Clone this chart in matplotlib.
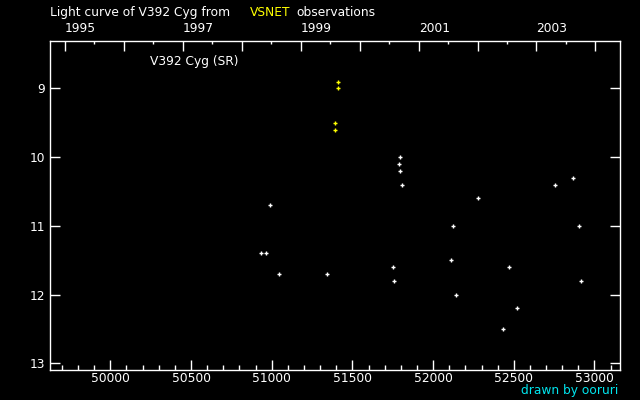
from datetime import date

import matplotlib
matplotlib.use("Agg")
import matplotlib.pyplot as plt
from matplotlib.ticker import FixedLocator, FixedFormatter

# observations (JD - 2400000, visual magnitude)
white_jd = [50935.6, 50966.5, 50991.3, 51047.0, 51344.5, 51753.4, 51759.6,
            51790.6, 51796.8, 51796.8, 51809.2, 52112.8, 52125.0, 52143.7,
            52280.0, 52435.0, 52472.1, 52521.7, 52757.1, 52868.6, 52905.8,
            52918.2]
white_mag = [11.4, 11.4, 10.7, 11.7, 11.7, 11.6, 11.8,
             10.1, 10.0, 10.2, 10.4, 11.5, 11.0, 12.0,
             10.6, 12.5, 11.6, 12.2, 10.4, 10.3, 11.0,
             11.8]
yellow_jd = [51394.0, 51394.0, 51412.6, 51412.6]
yellow_mag = [9.5, 9.6, 8.9, 9.0]

jd_ticks = [50000, 50500, 51000, 51500, 52000, 52500, 53000]
mag_ticks = [9, 10, 11, 12, 13]
years = list(range(1995, 2005))


def year_jd(y):
    # JD-2400000 of Jan 1 0h UT
    return (date(y, 1, 1) - date(1995, 1, 1)).days + 49718.5


fg = "white"
fs = 8.8
plt.rcParams["font.family"] = ["DejaVu Sans"]
plt.rcParams["font.size"] = fs

fig = plt.figure(figsize=(6.4, 4.0), dpi=100, facecolor="black")
ax = fig.add_axes([0.0786, 0.0743, 0.8906, 0.8237], facecolor="black")

ax.plot(white_jd, white_mag, "+", color="white", ms=3.5, mew=1.0)
ax.plot(yellow_jd, yellow_mag, "+", color="yellow", ms=3.5, mew=1.0)

ax.set_xlim(49628, 53160)
ax.set_ylim(13.10, 8.308)

for s in ax.spines.values():
    s.set_color(fg)
    s.set_linewidth(1.0)

ax.xaxis.set_major_locator(FixedLocator(jd_ticks))
ax.xaxis.set_minor_locator(FixedLocator(range(49700, 53160, 100)))
ax.yaxis.set_major_locator(FixedLocator(mag_ticks))
ax.tick_params(axis="x", which="major", direction="in", length=7.5, width=1,
               color=fg, labelcolor=fg, pad=1.0, labelsize=fs)
ax.tick_params(axis="x", which="minor", direction="in", length=3.6, width=1,
               color=fg)
ax.tick_params(axis="y", which="major", direction="in", length=7.5, width=1,
               color=fg, labelcolor=fg, right=True, pad=4.0, labelsize=fs)

# top axis with calendar years
top = ax.twiny()
top.set_xlim(ax.get_xlim())
for s in top.spines.values():
    s.set_visible(False)
yr_pos = [year_jd(y) for y in years]
half_pos = [(yr_pos[i] + yr_pos[i + 1]) / 2 for i in range(len(yr_pos) - 1)]
top.xaxis.set_major_locator(FixedLocator(yr_pos))
top.xaxis.set_major_formatter(FixedFormatter([str(y) if y % 2 else "" for y in years]))
top.xaxis.set_minor_locator(FixedLocator(half_pos))
top.tick_params(axis="x", which="major", direction="in", length=7.5, width=1,
                color=fg, labelcolor=fg, pad=4.5, labelsize=fs)
top.tick_params(axis="x", which="minor", direction="in", length=2.5, width=1,
                color=fg)
for lab in top.get_xticklabels():
    lab.set_horizontalalignment("left")

fig.text(50 / 640, 1 - 12.5 / 400, "Light curve of V392 Cyg from", color=fg,
         fontsize=fs, va="center", ha="left")
fig.text(250 / 640, 1 - 12.5 / 400, "VSNET", color="yellow",
         fontsize=fs, va="center", ha="left")
fig.text(296 / 640, 1 - 12.5 / 400, "observations", color=fg,
         fontsize=fs, va="center", ha="left")
fig.text(150 / 640, 1 - 61 / 400, "V392 Cyg (SR)", color=fg,
         fontsize=fs, va="center", ha="left")
fig.text(618 / 640, 1 - 394 / 400, "drawn by ooruri", color="#00e5ee",
         fontsize=fs, va="baseline", ha="right")

fig.savefig("out.png", dpi=100, facecolor="black")
